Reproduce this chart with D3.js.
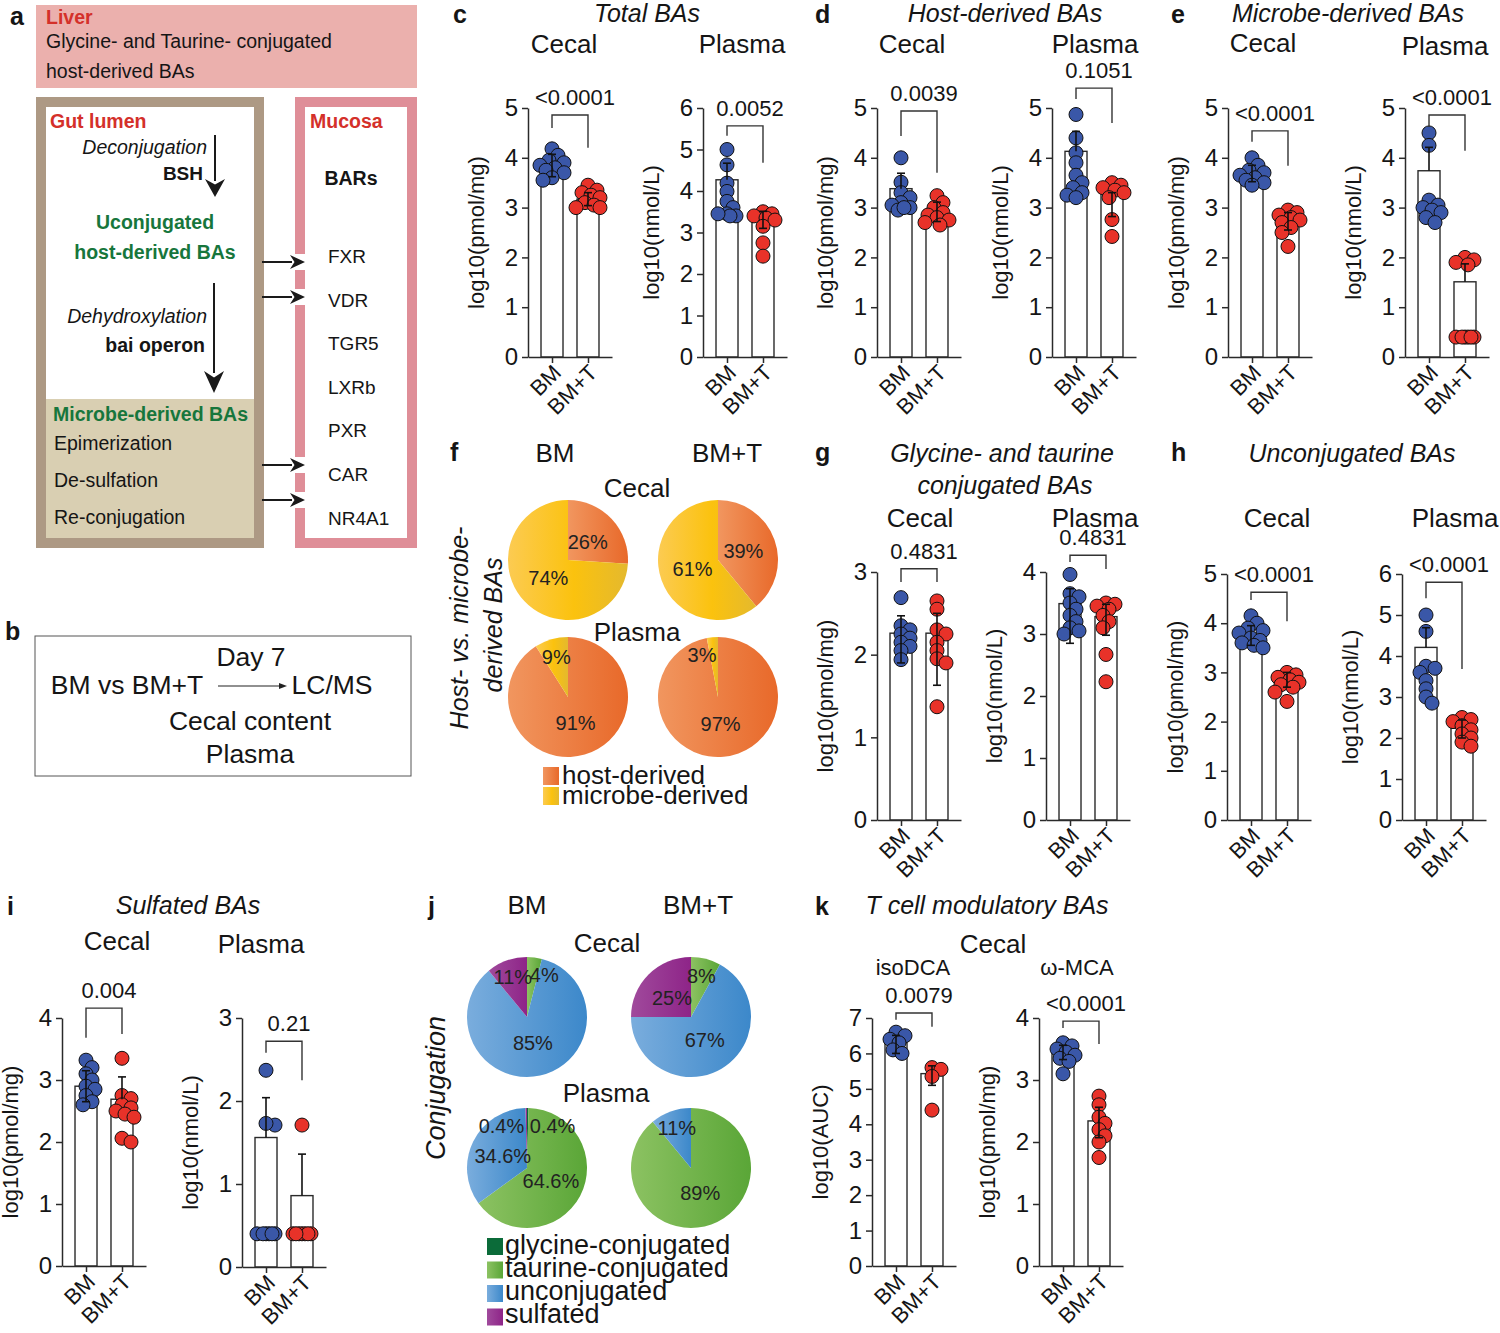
<!DOCTYPE html>
<meta charset='utf-8'>
<style>
body { margin: 0; background: #fff; }
svg text { font-family: 'Liberation Sans', Arial, Helvetica, sans-serif; }
</style>
<body>
<div class='fig'></div>
<script src='https://d3js.org/d3.v7.min.js'></script>
<script>
// ---- data ----
var groups = ['BM', 'BM+T'];

// c  total BAs
var totalCecalPts = [[4.18, 4.05, 3.95, 3.9, 3.85, 3.8, 3.75, 3.7, 3.6, 3.55], [3.45, 3.35, 3.3, 3.25, 3.2, 3.1, 3.05, 3.0, 3.0]];
var totalCecalMean = [3.87, 3.17];
var totalCecalSD = [[3.62, 4.07], [3.04, 3.3]];
var totalPlasmaPts = [[5.0, 4.63, 4.19, 3.99, 3.75, 3.6, 3.45, 3.4, 3.4, 3.45], [3.5, 3.45, 3.4, 3.35, 3.3, 3.15, 2.75, 2.43]];
var totalPlasmaMean = [4.27, 3.31];
var totalPlasmaSD = [[4.27, 4.67], [3.1, 3.51]];
// d  host-derived
var hostCecalPts = [[4.0, 3.51, 3.3, 3.2, 3.1, 3.05, 3.0, 2.95, 3.0], [3.24, 3.1, 3.0, 2.9, 2.85, 2.8, 2.75, 2.7, 2.65]];
var hostCecalMean = [3.38, 2.96];
var hostCecalSD = [[3.38, 3.69], [2.72, 3.11]];
var hostPlasmaPts = [[4.87, 4.4, 4.1, 3.9, 3.65, 3.5, 3.4, 3.3, 3.25, 3.2], [3.5, 3.45, 3.4, 3.35, 3.3, 3.2, 2.76, 2.42]];
var hostPlasmaMean = [4.13, 3.29];
var hostPlasmaSD = [[4.13, 4.53], [2.82, 3.3]];
// e  microbe-derived
var microbeCecalPts = [[4.0, 3.85, 3.75, 3.7, 3.65, 3.6, 3.55, 3.5, 3.45], [2.95, 2.9, 2.85, 2.8, 2.75, 2.7, 2.6, 2.5, 2.22]];
var microbeCecalMean = [3.7, 2.75];
var microbeCecalSD = [[3.52, 3.85], [2.55, 2.9]];
var microbePlasmaPts = [[4.5, 4.25, 3.15, 3.05, 3.0, 2.95, 2.9, 2.8, 2.7], [2.0, 1.95, 1.9, 1.85, 0.4, 0.4, 0.4, 0.4, 0.4, 0.4]];
var microbePlasmaMean = [3.74, 1.51];
var microbePlasmaSD = [[3.74, 4.21], [1.51, 1.87]];
// g  glycine/taurine conjugated
var conjCecalPts = [[2.69, 2.35, 2.3, 2.25, 2.2, 2.15, 2.1, 2.05, 1.94], [2.65, 2.55, 2.3, 2.25, 2.15, 2.05, 1.95, 1.9, 1.37]];
var conjCecalMean = [2.26, 2.26];
var conjCecalSD = [[1.9, 2.47], [1.63, 2.5]];
var conjPlasmaPts = [[3.96, 3.65, 3.6, 3.5, 3.4, 3.3, 3.2, 3.1, 3.05, 3.0], [3.5, 3.48, 3.45, 3.4, 3.3, 3.2, 3.1, 2.67, 2.23]];
var conjPlasmaMean = [3.49, 3.28];
var conjPlasmaSD = [[2.85, 3.73], [2.98, 3.48]];
// h  unconjugated
var unconjCecalPts = [[4.15, 4.0, 3.9, 3.85, 3.8, 3.7, 3.65, 3.6, 3.55, 3.5], [3.0, 2.95, 2.9, 2.85, 2.8, 2.75, 2.7, 2.6, 2.41]];
var unconjCecalMean = [3.75, 2.85];
var unconjCecalSD = [[3.55, 3.95], [2.7, 3.0]];
var unconjPlasmaPts = [[5.0, 4.6, 3.75, 3.7, 3.6, 3.4, 3.2, 3.0, 2.85], [2.5, 2.45, 2.4, 2.3, 2.2, 2.1, 2.0, 1.9, 1.8]];
var unconjPlasmaMean = [4.21, 2.24];
var unconjPlasmaSD = [[4.21, 4.69], [2.0, 2.44]];
// i  sulfated
var sulfCecalPts = [[3.32, 3.2, 3.1, 3.0, 2.9, 2.85, 2.75, 2.65, 2.6], [3.35, 2.75, 2.7, 2.6, 2.55, 2.5, 2.45, 2.4, 2.06, 2.0]];
var sulfCecalMean = [2.9, 2.69];
var sulfCecalSD = [[2.65, 3.15], [2.69, 3.05]];
var sulfPlasmaPts = [[2.37, 1.71, 1.73, 0.4, 0.4, 0.4, 0.4, 0.4, 0.4], [1.71, 0.4, 0.4, 0.4, 0.4, 0.4, 0.4, 0.4]];
var sulfPlasmaMean = [1.56, 0.86];
var sulfPlasmaSD = [[1.56, 2.04], [0.86, 1.36]];
// k  T cell modulatory
var isoDCAPts = [[6.6, 6.5, 6.4, 6.3, 6.1, 6.0], [5.6, 5.55, 5.35, 4.4]];
var isoDCAMean = [6.3, 5.43];
var isoDCASD = [[6.0, 6.51], [5.1, 5.65]];
var omegaPts = [[3.6, 3.55, 3.5, 3.45, 3.4, 3.35, 3.3, 3.1], [2.74, 2.6, 2.4, 2.3, 2.2, 2.1, 2.0, 1.75]];
var omegaMean = [3.53, 2.34];
var omegaSD = [[3.33, 3.56], [2.07, 2.56]];

// brackets [top, left leg end, right leg end] in axis units, and p values
var brackets = [[4.86, 4.6, 4.2], [5.57, 5.33, 4.68], [4.94, 4.44, 3.7], [5.4, 5.18, 4.7],
    [4.54, 4.32, 3.84], [4.86, 4.62, 4.14], [3.04, 2.88, 2.88], [4.27, 4.16, 4.05],
    [4.63, 4.47, 4.04], [5.8, 5.41, 3.68], [4.16, 3.68, 3.74], [2.72, 2.58, 2.25],
    [7.14, 6.95, 6.75], [3.95, 3.84, 3.58]];
var pValues = ['<0.0001', '0.0052', '0.0039', '0.1051', '<0.0001', '<0.0001', '0.4831', '0.4831',
    '<0.0001', '<0.0001', '0.004', '0.21', '0.0079', '<0.0001'];
var yMax = [5, 6, 5, 5, 5, 5, 3, 4, 5, 6, 4, 3, 7, 4];

// pies
var hostMicrobeKeys = ['host-derived', 'microbe-derived'];
var hostMicrobeCecal = [[26, 74], [39, 61]];
var hostMicrobePlasma = [[91, 9], [97, 3]];
var conjKeys = ['glycine-conjugated', 'taurine-conjugated', 'unconjugated', 'sulfated'];
var conjPieCecal = [[0, 4, 85, 11], [0, 8, 67, 25]];
var conjPiePlasma = [[0.4, 64.6, 34.6, 0.4], [0, 89, 11, 0]];

// ---- drawing ----
var fig = d3.select('.fig').append('svg')
    .attr('width', 1500)
    .attr('height', 1333);

var defs = fig.append('defs');
function grad(id, stops) {
    var lg = defs.append('linearGradient').attr('id', id)
        .attr('x1', 0).attr('x2', 1).attr('y1', 0).attr('y2', 0);
    stops.forEach(function(s) {
        lg.append('stop').attr('offset', s[0]).attr('stop-color', s[1]);
    });
}
grad('gOrange', [[0, '#f1965f'], [1, '#e8692a']]);
grad('gYellow', [[0, '#fccb52'], [0.55, '#fbc20e'], [1, '#e4b92e']]);
grad('gBlue', [[0, '#7aaddd'], [1, '#3c88ca']]);
grad('gGreen', [[0, '#8cc262'], [1, '#5aa637']]);
grad('gPurple', [[0, '#a04a9c'], [1, '#8e2488']]);
grad('gGly', [[0, '#0b6b39'], [1, '#0b6b39']]);

function txt(g, x, y, s, o) {
    o = o || {};
    return g.append('text')
        .attr('x', x).attr('y', y)
        .attr('font-size', o.size || 22)
        .attr('text-anchor', o.anchor || 'middle')
        .attr('font-style', o.italic ? 'italic' : null)
        .attr('font-weight', o.bold ? 'bold' : null)
        .attr('fill', o.fill || '#151515')
        .text(s);
}

function swarm(vals, cx, y, r) {
    var placed = [], xs = [];
    var order = vals.map(function(v, i) { return i; })
        .sort(function(a, b) { return vals[b] - vals[a]; });
    var cands = [0, 3, -3, 6, -6, 9, -9, 12, -12];
    order.forEach(function(i) {
        var py = y(vals[i]), best = cx, bestD = -1;
        for (var k = 0; k < cands.length; k++) {
            var px = cx + cands[k];
            var md = placed.length ? d3.min(placed, function(p) { return Math.hypot(p[0] - px, p[1] - py); }) : Infinity;
            if (md >= r * 1.15) { best = px; break; }
            if (md > bestD) { bestD = md; best = px; }
        }
        xs[i] = best;
        placed.push([best, py]);
    });
    return xs;
}

var colors = ['#3a57a8', '#e83229'];

function barChart(c, k) {
    var g = fig.append('g');
    var y = d3.scaleLinear().domain([0, yMax[k]]).range([c.bot, c.top]);
    var x = d3.scalePoint().domain(groups).range([c.x, c.x + 84]).padding(0.667);

    // bars
    groups.forEach(function(grp, i) {
        g.append('rect')
            .attr('x', x(grp) - 11).attr('width', 22)
            .attr('y', y(c.mean[i])).attr('height', c.bot - y(c.mean[i]))
            .attr('fill', '#fff').attr('stroke', '#2a2a2a').attr('stroke-width', 1.4);
    });

    // axes
    var ya = g.append('g').attr('transform', 'translate(' + c.x + ',0)')
        .call(d3.axisLeft(y).ticks(yMax[k]).tickFormat(d3.format('d')).tickSize(6).tickSizeOuter(0).tickPadding(4));
    ya.selectAll('text').attr('font-size', 24).attr('fill', '#151515').style('font-family', null);
    var xa = g.append('g').attr('transform', 'translate(0,' + c.bot + ')')
        .call(d3.axisBottom(x).tickSize(6).tickSizeOuter(0));
    xa.selectAll('text')
        .attr('font-size', 22).attr('fill', '#151515').style('font-family', null)
        .attr('text-anchor', 'end').attr('x', 0).attr('y', 0).attr('dy', 0)
        .attr('transform', 'translate(10,17) rotate(-45)');
    g.selectAll('.domain, .tick line').attr('stroke', '#2a2a2a').attr('stroke-width', 1.5);

    // points
    groups.forEach(function(grp, i) {
        var xs = swarm(c.pts[i], x(grp), y, 7);
        g.selectAll(null).data(c.pts[i]).enter().append('circle')
            .attr('cx', function(d, j) { return xs[j]; })
            .attr('cy', function(d) { return y(d); })
            .attr('r', 7)
            .attr('fill', colors[i])
            .attr('stroke', '#111').attr('stroke-width', 1);
    });

    // error bars
    groups.forEach(function(grp, i) {
        var cx = x(grp), lo = c.sd[i][0], hi = c.sd[i][1];
        g.append('line').attr('x1', cx).attr('x2', cx).attr('y1', y(lo)).attr('y2', y(hi))
            .attr('stroke', '#111').attr('stroke-width', 1.6);
        g.append('line').attr('x1', cx - 4).attr('x2', cx + 4).attr('y1', y(hi)).attr('y2', y(hi))
            .attr('stroke', '#111').attr('stroke-width', 1.6);
        if (lo < c.mean[i]) {
            g.append('line').attr('x1', cx - 4).attr('x2', cx + 4).attr('y1', y(lo)).attr('y2', y(lo))
                .attr('stroke', '#111').attr('stroke-width', 1.6);
        }
    });

    // bracket + p value
    var b = brackets[k], x1 = x(groups[0]), x2 = x(groups[1]);
    g.append('path')
        .attr('d', 'M' + x1 + ',' + y(b[1]) + 'V' + y(b[0]) + 'H' + x2 + 'V' + y(b[2]))
        .attr('fill', 'none').attr('stroke', '#333').attr('stroke-width', 1.4);
    txt(g, (x1 + x2) / 2 + 5, y(b[0]) - 10, pValues[k], { size: 22 });

    // y label
    txt(g, 0, 0, c.ylab, { size: 22 })
        .attr('transform', 'translate(' + (c.x - 44) + ',' + ((c.top + c.bot) / 2) + ') rotate(-90)');
}

var charts = [
    { pts: totalCecalPts, mean: totalCecalMean, sd: totalCecalSD, ylab: 'log10(pmol/mg)', x: 528, top: 108, bot: 357 },
    { pts: totalPlasmaPts, mean: totalPlasmaMean, sd: totalPlasmaSD, ylab: 'log10(nmol/L)', x: 703, top: 108, bot: 357 },
    { pts: hostCecalPts, mean: hostCecalMean, sd: hostCecalSD, ylab: 'log10(pmol/mg)', x: 877, top: 108, bot: 357 },
    { pts: hostPlasmaPts, mean: hostPlasmaMean, sd: hostPlasmaSD, ylab: 'log10(nmol/L)', x: 1052, top: 108, bot: 357 },
    { pts: microbeCecalPts, mean: microbeCecalMean, sd: microbeCecalSD, ylab: 'log10(pmol/mg)', x: 1228, top: 108, bot: 357 },
    { pts: microbePlasmaPts, mean: microbePlasmaMean, sd: microbePlasmaSD, ylab: 'log10(nmol/L)', x: 1405, top: 108, bot: 357 },
    { pts: conjCecalPts, mean: conjCecalMean, sd: conjCecalSD, ylab: 'log10(pmol/mg)', x: 877, top: 572, bot: 820 },
    { pts: conjPlasmaPts, mean: conjPlasmaMean, sd: conjPlasmaSD, ylab: 'log10(nmol/L)', x: 1046, top: 572, bot: 820 },
    { pts: unconjCecalPts, mean: unconjCecalMean, sd: unconjCecalSD, ylab: 'log10(pmol/mg)', x: 1227, top: 574, bot: 820 },
    { pts: unconjPlasmaPts, mean: unconjPlasmaMean, sd: unconjPlasmaSD, ylab: 'log10(nmol/L)', x: 1402, top: 574, bot: 820 },
    { pts: sulfCecalPts, mean: sulfCecalMean, sd: sulfCecalSD, ylab: 'log10(pmol/mg)', x: 62, top: 1018, bot: 1266 },
    { pts: sulfPlasmaPts, mean: sulfPlasmaMean, sd: sulfPlasmaSD, ylab: 'log10(nmol/L)', x: 242, top: 1018, bot: 1267 },
    { pts: isoDCAPts, mean: isoDCAMean, sd: isoDCASD, ylab: 'log10(AUC)', x: 872, top: 1018, bot: 1266 },
    { pts: omegaPts, mean: omegaMean, sd: omegaSD, ylab: 'log10(pmol/mg)', x: 1039, top: 1018, bot: 1266 }
];
charts.forEach(barChart);

// ---- pies ----
var pie = d3.pie().sort(null).value(function(d) { return d; });
function pieChart(cx, cy, vals, fills) {
    var R = 60;
    var g = fig.append('g').attr('transform', 'translate(' + cx + ',' + cy + ')');
    var arc = d3.arc().innerRadius(0).outerRadius(R);
    var arcs = pie(vals);
    g.selectAll(null).data(arcs).enter().append('path')
        .attr('d', arc)
        .attr('fill', function(d, i) { return 'url(#' + fills[i] + ')'; });
    arcs.forEach(function(a) {
        if (!a.data) return;
        var frac = a.data / 100;
        var rr = frac < 0.15 ? 0.7 * R : 0.45 * R;
        var mid = (a.startAngle + a.endAngle) / 2;
        var px = Math.sin(mid) * rr, py = -Math.cos(mid) * rr;
        var s = Math.sin(mid) >= 0 ? 1 : -1;
        if (frac < 0.02) px += 25 * s;
        else if (frac < 0.06) px += 12 * s;
        txt(g, px, py + 7, a.data + '%', { size: 20, fill: '#222' });
    });
}
var hmFills = ['gOrange', 'gYellow'];
var conjFills = ['gGly', 'gGreen', 'gBlue', 'gPurple'];
pieChart(568, 560, hostMicrobeCecal[0], hmFills);
pieChart(718, 560, hostMicrobeCecal[1], hmFills);
pieChart(568, 697, hostMicrobePlasma[0], hmFills);
pieChart(718, 697, hostMicrobePlasma[1], hmFills);
pieChart(527, 1017, conjPieCecal[0], conjFills);
pieChart(691, 1017, conjPieCecal[1], conjFills);
pieChart(527, 1168, conjPiePlasma[0], conjFills);
pieChart(691, 1168, conjPiePlasma[1], conjFills);

// legends
hostMicrobeKeys.forEach(function(kname, i) {
    fig.append('rect').attr('x', 543).attr('y', 767 + i * 20).attr('width', 16).attr('height', 18)
        .attr('fill', 'url(#' + hmFills[i] + ')');
    txt(fig, 562, 784 + i * 20, kname, { size: 26, anchor: 'start' });
});
conjKeys.forEach(function(kname, i) {
    fig.append('rect').attr('x', 487).attr('y', 1238 + i * 23.5).attr('width', 16).attr('height', 17)
        .attr('fill', 'url(#' + conjFills[i] + ')');
    txt(fig, 505, 1254 + i * 23, kname, { size: 27, anchor: 'start' });
});

// ---- headings ----
var letters = [['a', 10, 25], ['b', 5, 640], ['c', 453, 23], ['d', 815, 23], ['e', 1171, 23], ['f', 450, 461],
    ['g', 815, 461], ['h', 1171, 461], ['i', 7, 915], ['j', 428, 915], ['k', 815, 915]];
letters.forEach(function(l) { txt(fig, l[1], l[2], l[0], { size: 25, bold: true, anchor: 'start' }); });

var titles = [['Total BAs', 647, 22], ['Host-derived BAs', 1005, 22], ['Microbe-derived BAs', 1348, 22],
    ['Glycine- and taurine', 1002, 462], ['conjugated BAs', 1005, 494], ['Unconjugated BAs', 1352, 462],
    ['Sulfated BAs', 188, 914], ['T cell modulatory BAs', 987, 914]];
titles.forEach(function(t) { txt(fig, t[1], t[2], t[0], { size: 25, italic: true }); });

var heads = [['Cecal', 564, 53], ['Plasma', 742, 53], ['Cecal', 912, 53], ['Plasma', 1095, 53],
    ['Cecal', 1263, 52], ['Plasma', 1445, 55], ['Cecal', 920, 527], ['Plasma', 1095, 527],
    ['Cecal', 1277, 527], ['Plasma', 1455, 527], ['Cecal', 117, 950], ['Plasma', 261, 953],
    ['Cecal', 993, 953], ['BM', 555, 462], ['BM+T', 727, 462], ['Cecal', 637, 497], ['Plasma', 637, 641],
    ['BM', 527, 914], ['BM+T', 698, 914], ['Cecal', 607, 952], ['Plasma', 606, 1102]];
heads.forEach(function(t) { txt(fig, t[1], t[2], t[0], { size: 26 }); });
txt(fig, 913, 975, 'isoDCA', { size: 22 });
txt(fig, 1077, 975, '\u03c9-MCA', { size: 22 });

txt(fig, 0, 0, 'Host- vs. microbe-', { size: 25, italic: true }).attr('transform', 'translate(468,628) rotate(-90)');
txt(fig, 0, 0, 'derived BAs', { size: 25, italic: true }).attr('transform', 'translate(502,625) rotate(-90)');
txt(fig, 0, 0, 'Conjugation', { size: 27, italic: true }).attr('transform', 'translate(445,1088) rotate(-90)');

// ---- panel a ----
var a = fig.append('g');
var red = '#d4302a', green = '#17763c';
a.append('rect').attr('x', 36).attr('y', 5).attr('width', 381).attr('height', 83).attr('fill', '#ebb0ad');
txt(a, 46, 24, 'Liver', { size: 19.5, bold: true, fill: red, anchor: 'start' });
txt(a, 46, 48, 'Glycine- and Taurine- conjugated', { size: 19.5, anchor: 'start' });
txt(a, 46, 78, 'host-derived BAs', { size: 19.5, anchor: 'start' });

a.append('rect').attr('x', 36).attr('y', 97).attr('width', 228).attr('height', 451).attr('fill', '#ad9984');
a.append('rect').attr('x', 46).attr('y', 107).attr('width', 208).attr('height', 292).attr('fill', '#fff');
a.append('rect').attr('x', 46).attr('y', 399).attr('width', 208).attr('height', 139).attr('fill', '#d9cfb2');

a.append('rect').attr('x', 295).attr('y', 97).attr('width', 122).attr('height', 451).attr('fill', '#df8e98');
a.append('rect').attr('x', 305).attr('y', 107).attr('width', 102).attr('height', 431).attr('fill', '#fff');

txt(a, 50, 128, 'Gut lumen', { size: 19.5, bold: true, fill: red, anchor: 'start' });
txt(a, 207, 154, 'Deconjugation', { size: 19.5, italic: true, anchor: 'end' });
txt(a, 203, 180, 'BSH', { size: 19, bold: true, anchor: 'end' });
txt(a, 155, 229, 'Uconjugated', { size: 19.5, bold: true, fill: green });
txt(a, 155, 259, 'host-derived BAs', { size: 19.5, bold: true, fill: green });
txt(a, 207, 323, 'Dehydroxylation', { size: 19.5, italic: true, anchor: 'end' });
txt(a, 205, 352, 'bai operon', { size: 19.5, bold: true, anchor: 'end' });
txt(a, 53, 421, 'Microbe-derived BAs', { size: 19.5, bold: true, fill: green, anchor: 'start' });
txt(a, 54, 450, 'Epimerization', { size: 19.5, anchor: 'start' });
txt(a, 54, 487, 'De-sulfation', { size: 19.5, anchor: 'start' });
txt(a, 54, 524, 'Re-conjugation', { size: 19.5, anchor: 'start' });

txt(a, 310, 128, 'Mucosa', { size: 19.5, bold: true, fill: red, anchor: 'start' });
txt(a, 351, 185, 'BARs', { size: 19.5, bold: true });
var receptors = ['FXR', 'VDR', 'TGR5', 'LXRb', 'PXR', 'CAR', 'NR4A1'];
receptors.forEach(function(r, i) { txt(a, 328, 263 + i * 43.6, r, { size: 19, anchor: 'start' }); });

function arrowV(x, y1, y2, hw, hl) {
    a.append('line').attr('x1', x).attr('x2', x).attr('y1', y1).attr('y2', y2 - hl + 2)
        .attr('stroke', '#1a1a1a').attr('stroke-width', 2);
    a.append('path').attr('d', 'M' + x + ',' + y2 + 'L' + (x - hw) + ',' + (y2 - hl) + 'L' + x + ',' + (y2 - hl * 0.7) +
        'L' + (x + hw) + ',' + (y2 - hl) + 'Z').attr('fill', '#1a1a1a');
}
function arrowH(x1, x2, y, hw, hl) {
    a.append('rect').attr('x', 294).attr('y', y - 8).attr('width', 12).attr('height', 16).attr('fill', '#fff');
    a.append('line').attr('x1', x1).attr('x2', x2 - hl + 2).attr('y1', y).attr('y2', y)
        .attr('stroke', '#1a1a1a').attr('stroke-width', 2);
    a.append('path').attr('d', 'M' + x2 + ',' + y + 'L' + (x2 - hl) + ',' + (y - hw) + 'L' + (x2 - hl * 0.7) + ',' + y +
        'L' + (x2 - hl) + ',' + (y + hw) + 'Z').attr('fill', '#1a1a1a');
}
arrowV(215, 135, 197, 10, 18);
arrowV(214, 283, 393, 10, 22);
[262, 297, 465, 500].forEach(function(yy) { arrowH(262, 305, yy, 7, 15); });

// ---- panel b ----
var b = fig.append('g');
b.append('rect').attr('x', 35).attr('y', 636).attr('width', 376).attr('height', 140)
    .attr('fill', 'none').attr('stroke', '#555').attr('stroke-width', 1);
txt(b, 251, 666, 'Day 7', { size: 26.5 });
txt(b, 127, 694, 'BM vs BM+T', { size: 26.5 });
txt(b, 332, 694, 'LC/MS', { size: 26.5 });
txt(b, 250, 730, 'Cecal content', { size: 26.5 });
txt(b, 250, 763, 'Plasma', { size: 26.5 });
b.append('line').attr('x1', 218).attr('x2', 282).attr('y1', 686).attr('y2', 686).attr('stroke', '#222').attr('stroke-width', 1.2);
b.append('path').attr('d', 'M287,686L279,683L279,689Z').attr('fill', '#222');
</script>
